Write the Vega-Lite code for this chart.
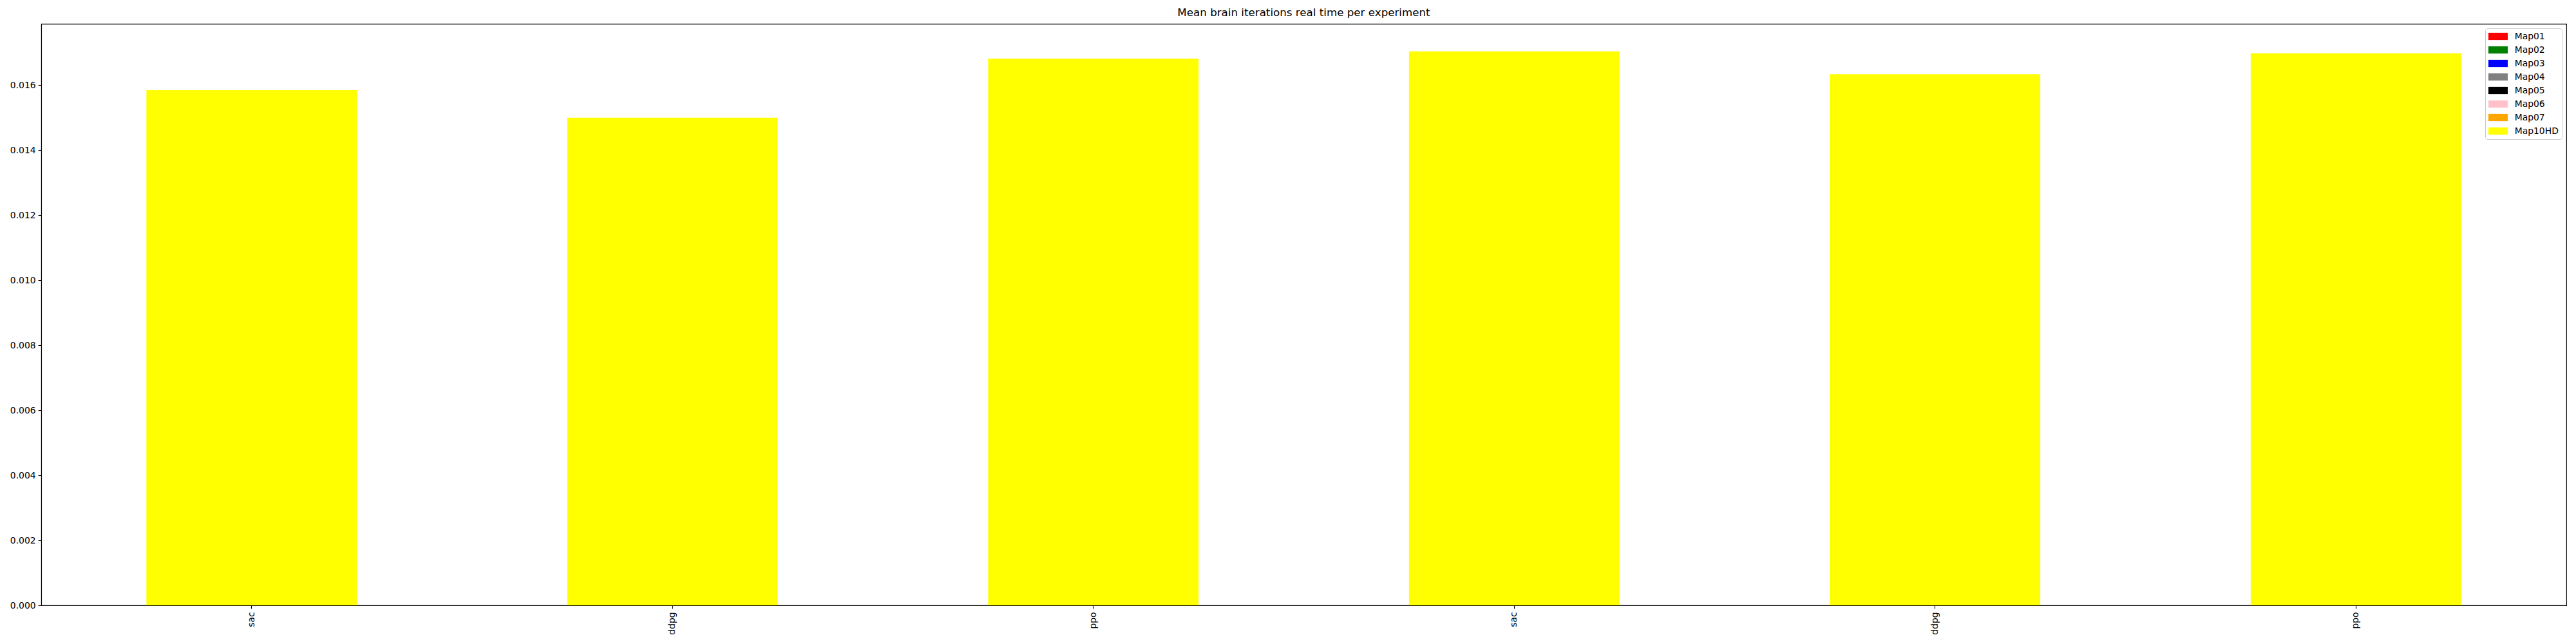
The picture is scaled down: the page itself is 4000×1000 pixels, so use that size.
{
  "$schema": "https://vega.github.io/schema/vega-lite/v6.json",
  "width": 3921,
  "height": 903,
  "autosize": {"type": "none"},
  "padding": {"left": 64, "top": 37, "right": 15, "bottom": 60},
  "background": "white",
  "title": {"text": "Mean brain iterations real time per experiment", "font": "DejaVu Sans", "fontSize": 16.7, "fontWeight": "normal", "color": "black", "anchor": "middle", "offset": 8},
  "config": {
    "view": {"stroke": "black", "strokeWidth": 1.1},
    "axis": {"labelFont": "DejaVu Sans", "labelFontSize": 13.9, "labelColor": "black", "tickColor": "black", "tickSize": 4.9, "tickWidth": 1.1, "domainColor": "black", "domainWidth": 1.1, "grid": false, "title": null}
  },
  "data": {"values": [
    {"experiment": "sac|1", "map": "Map10HD", "time": 0.01585},
    {"experiment": "ddpg|2", "map": "Map10HD", "time": 0.0150},
    {"experiment": "ppo|3", "map": "Map10HD", "time": 0.01682},
    {"experiment": "sac|4", "map": "Map10HD", "time": 0.01704},
    {"experiment": "ddpg|5", "map": "Map10HD", "time": 0.01634},
    {"experiment": "ppo|6", "map": "Map10HD", "time": 0.01698}
  ]},
  "mark": {"type": "bar", "strokeWidth": 0},
  "encoding": {
    "x": {"field": "experiment", "type": "nominal", "sort": null,
      "scale": {"paddingInner": 0.5, "paddingOuter": 0.25},
      "axis": {"labelAngle": -90, "labelExpr": "split(datum.value, '|')[0]", "labelPadding": 5}},
    "y": {"field": "time", "type": "quantitative", "stack": "zero",
      "scale": {"domain": [0, 0.017888], "nice": false, "zero": true},
      "axis": {"values": [0, 0.002, 0.004, 0.006, 0.008, 0.01, 0.012, 0.014, 0.016], "format": ".3f", "labelPadding": 4}},
    "color": {"field": "map", "type": "nominal",
      "scale": {"domain": ["Map01", "Map02", "Map03", "Map04", "Map05", "Map06", "Map07", "Map10HD"],
                "range": ["red", "green", "blue", "gray", "black", "pink", "orange", "yellow"]},
      "legend": {"title": null, "orient": "top-right", "offset": 7,
        "symbolType": "M-1,-0.75H3V0.75H-1Z", "symbolSize": 225, "symbolStrokeWidth": 0, "symbolOpacity": 1,
        "labelFont": "DejaVu Sans", "labelFontSize": 13.9, "labelColor": "black", "labelOffset": 25.7,
        "rowPadding": 6, "padding": 5, "strokeColor": "#cccccc", "fillColor": "rgba(255,255,255,0.8)", "cornerRadius": 3}}
  }
}
